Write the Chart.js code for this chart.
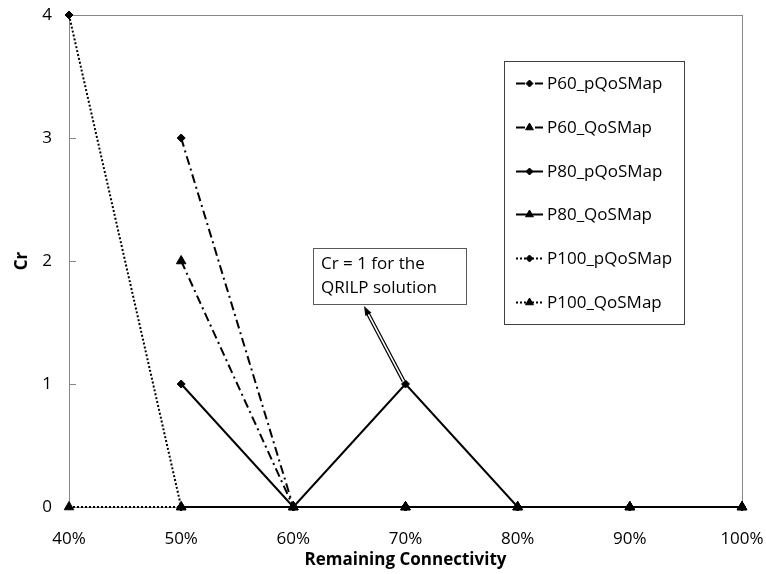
<!DOCTYPE html>
<html>
<head>
<meta charset="utf-8">
<script src="https://cdn.jsdelivr.net/npm/chart.js@4"></script>
<style>
  html, body { margin: 0; padding: 0; background: #ffffff; }
  #wrap { width: 766px; height: 574px; }
</style>
</head>
<body>
<div id="wrap"><canvas id="c" width="766" height="574"></canvas></div>
<script>
// Remaining connectivity levels (x categories)
const connectivity = ['40%', '50%', '60%', '70%', '80%', '90%', '100%'];

// Cr values per series (null where a series has no point)
const p60pQoSMap  = [null, 3, 0, 0, 0, 0, 0];
const p60QoSMap   = [null, 2, 0, 0, 0, 0, 0];
const p80pQoSMap  = [null, 1, 0, 1, 0, 0, 0];
const p80QoSMap   = [null, 0, 0, 0, 0, 0, 0];
const p100pQoSMap = [4, 0, 0, 0, 0, 0, 0];
const p100QoSMap  = [0, 0, 0, 0, 0, 0, 0];

const seriesNames = ['P60_pQoSMap', 'P60_QoSMap', 'P80_pQoSMap', 'P80_QoSMap', 'P100_pQoSMap', 'P100_QoSMap'];
const seriesValues = [p60pQoSMap, p60QoSMap, p80pQoSMap, p80QoSMap, p100pQoSMap, p100QoSMap];

// Y axis range and step
const crMin = 0, crMax = 4, crStep = 1;

// Callout text and the point it refers to
const noteLines = ['Cr = 1 for the', 'QRILP solution'];
const notePointIndex = 3;     // 70%
const notePointValue = 1;

const FONT = '"Open Sans", "Liberation Sans", Arial, sans-serif';
const AXIS_GRAY = '#868686';

const dashDot = [9, 4, 2, 4];
const dotted = [2, 2];
const styles = [
  { dash: dashDot, point: 'rectRot', r: 4 },
  { dash: dashDot, point: 'triangle', r: 5.5 },
  { dash: [], point: 'rectRot', r: 4 },
  { dash: [], point: 'triangle', r: 5.5 },
  { dash: dotted, point: 'rectRot', r: 4 },
  { dash: dotted, point: 'triangle', r: 5.5 }
];

const datasets = seriesNames.map((name, i) => ({
  label: name,
  data: seriesValues[i],
  borderColor: '#000000',
  backgroundColor: '#000000',
  borderWidth: 2,
  borderDash: styles[i].dash,
  pointStyle: styles[i].point,
  pointRadius: styles[i].r,
  pointBorderWidth: 1,
  pointBackgroundColor: '#000000',
  pointBorderColor: '#000000',
  tension: 0,
  fill: false,
  clip: false,
  // later series are painted over earlier ones
  order: seriesNames.length - i
}));

// Plot frame and inner y tick marks
const framePlugin = {
  id: 'frame',
  beforeDatasetsDraw(chart) {
    const { ctx, chartArea: a, scales } = chart;
    ctx.save();
    ctx.strokeStyle = AXIS_GRAY;
    ctx.lineWidth = 1;
    ctx.strokeRect(Math.round(a.left) + 0.5, Math.round(a.top) + 0.5,
                   Math.round(a.right - a.left), Math.round(a.bottom - a.top));
    ctx.beginPath();
    for (let v = crMin; v <= crMax; v += crStep) {
      const y = Math.round(scales.y.getPixelForValue(v)) + 0.5;
      ctx.moveTo(a.left, y);
      ctx.lineTo(a.left + 7, y);
    }
    ctx.stroke();
    ctx.restore();
  }
};

// Legend box inside the plot, and the callout with its arrow
const overlayPlugin = {
  id: 'overlay',
  afterDraw(chart) {
    const { ctx, scales } = chart;
    ctx.save();

    // legend
    const lx = 504, ly = 61, lw = 180, lh = 263;
    ctx.fillStyle = '#ffffff';
    ctx.fillRect(lx, ly, lw, lh);
    ctx.strokeStyle = '#404040';
    ctx.lineWidth = 1;
    ctx.strokeRect(lx + 0.5, ly + 0.5, lw, lh);
    ctx.font = '17px ' + FONT;
    ctx.textBaseline = 'middle';
    ctx.textAlign = 'left';
    chart.data.datasets.forEach((ds, i) => {
      const y = Math.round(83 + i * 43.8) + 0.5;
      ctx.strokeStyle = '#000000';
      ctx.lineWidth = 2;
      ctx.setLineDash(ds.borderDash);
      ctx.beginPath();
      ctx.moveTo(516, y);
      ctx.lineTo(543, y);
      ctx.stroke();
      ctx.setLineDash([]);
      ctx.fillStyle = '#000000';
      ctx.strokeStyle = '#000000';
      ctx.lineWidth = 1;
      Chart.helpers.drawPoint(ctx, {
        pointStyle: ds.pointStyle, rotation: 0, borderWidth: 1,
        radius: ds.pointStyle === 'triangle' ? 4.5 : 3.5
      }, 529.5, y);
      ctx.fillText(ds.label, 547, y + 1);
    });

    // callout box
    const bx = 313, by = 248, bw = 153, bh = 56;
    ctx.fillStyle = '#ffffff';
    ctx.fillRect(bx, by, bw, bh);
    ctx.strokeStyle = '#595959';
    ctx.lineWidth = 1;
    ctx.strokeRect(bx + 0.5, by + 0.5, bw, bh);
    ctx.fillStyle = '#000000';
    ctx.font = '17px ' + FONT;
    ctx.textBaseline = 'middle';
    noteLines.forEach((t, k) => ctx.fillText(t, bx + 8, by + 16 + k * 24));

    // double-line arrow from the point up to the box
    const px = scales.x.getPixelForValue(notePointIndex) - 2;
    const py = scales.y.getPixelForValue(notePointValue) - 3;
    const tx = 364, ty = by + bh + 2;
    const ang = Math.atan2(ty - py, tx - px);
    const headLen = 10;
    const ex = tx - Math.cos(ang) * headLen * 0.8;
    const ey = ty - Math.sin(ang) * headLen * 0.8;
    ctx.lineCap = 'butt';
    ctx.strokeStyle = '#000000';
    ctx.lineWidth = 4;
    ctx.beginPath(); ctx.moveTo(px, py); ctx.lineTo(ex, ey); ctx.stroke();
    ctx.strokeStyle = '#ffffff';
    ctx.lineWidth = 1.6;
    ctx.beginPath(); ctx.moveTo(px - Math.cos(ang) * 0.5, py - Math.sin(ang) * 0.5); ctx.lineTo(ex, ey); ctx.stroke();
    ctx.fillStyle = '#000000';
    ctx.beginPath();
    ctx.moveTo(tx, ty);
    ctx.lineTo(tx - Math.cos(ang - 0.35) * headLen, ty - Math.sin(ang - 0.35) * headLen);
    ctx.lineTo(tx - Math.cos(ang + 0.35) * headLen, ty - Math.sin(ang + 0.35) * headLen);
    ctx.closePath();
    ctx.fill();

    ctx.restore();
  }
};

new Chart(document.getElementById('c'), {
  type: 'line',
  data: { labels: connectivity, datasets },
  options: {
    responsive: false,
    animation: false,
    devicePixelRatio: 1,
    layout: { padding: { top: 15, right: 24, left: 0, bottom: 0 } },
    plugins: { legend: { display: false }, tooltip: { enabled: false } },
    scales: {
      x: {
        type: 'category',
        offset: false,
        grid: { display: false, drawTicks: false },
        border: { display: false },
        ticks: { color: '#000000', font: { family: FONT, size: 17 }, padding: 22, maxRotation: 0, autoSkip: false },
        title: {
          display: true, text: 'Remaining Connectivity', color: '#000000',
          font: { family: FONT, size: 17, weight: 'bold', lineHeight: 1.2 },
          padding: { top: 0, bottom: 4 }
        },
        afterFit(scale) { scale.height = 67; scale.paddingLeft = 0; scale.paddingRight = 0; }
      },
      y: {
        min: crMin, max: crMax,
        grid: { display: false, drawTicks: false },
        border: { display: false },
        ticks: { stepSize: crStep, color: '#000000', font: { family: FONT, size: 17 }, padding: 17 },
        title: {
          display: true, text: 'Cr', color: '#000000',
          font: { family: FONT, size: 17, weight: 'bold', lineHeight: 1.2 },
          padding: { top: 12, bottom: 0 }
        },
        afterFit(scale) { scale.width = 69; scale.paddingTop = 0; scale.paddingBottom = 0; }
      }
    }
  },
  plugins: [framePlugin, overlayPlugin]
});
</script>
</body>
</html>
